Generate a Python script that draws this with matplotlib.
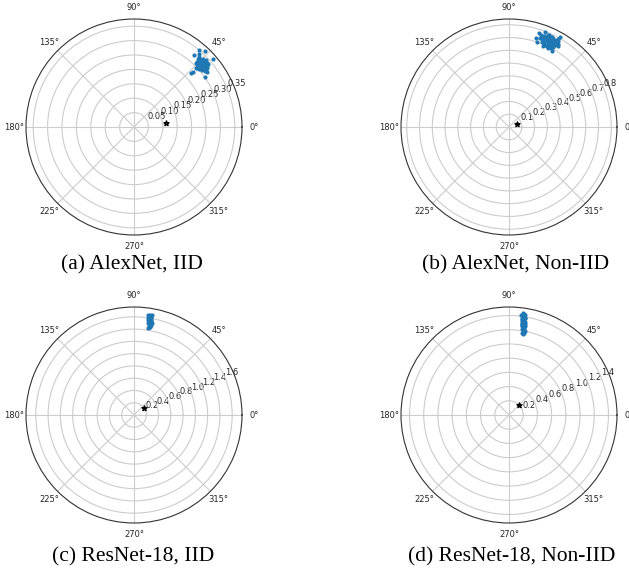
import matplotlib

matplotlib.use('Agg')
import matplotlib.pyplot as plt
import numpy as np

# Panel (a) AlexNet, IID
theta_a = [42.1, 43.5, 41.0, 44.2, 40.3, 42.8, 45.1, 39.6, 43.0, 41.7,
           44.8, 42.4, 40.9, 43.9, 46.0, 41.3, 42.6, 44.0, 39.2, 43.3,
           45.6, 40.6, 42.0, 44.5, 41.9, 43.7, 38.7, 42.9, 46.4, 40.1,
           43.1, 41.5, 44.7, 42.3, 39.9, 45.3, 41.1, 43.6, 42.7, 40.7,
           44.3, 47.2, 38.4, 42.2, 43.4, 41.6, 45.8, 40.4, 49.8, 47.0,
           40.7, 43.0, 35.2, 50.2, 43.5, 36.8, 48.5]
r_a = [0.320, 0.315, 0.325, 0.318, 0.312, 0.331, 0.322, 0.317, 0.305, 0.328,
       0.310, 0.336, 0.320, 0.327, 0.316, 0.309, 0.323, 0.333, 0.326, 0.314,
       0.329, 0.338, 0.302, 0.322, 0.316, 0.308, 0.321, 0.340, 0.324, 0.330,
       0.327, 0.313, 0.335, 0.311, 0.309, 0.317, 0.334, 0.321, 0.300, 0.319,
       0.328, 0.330, 0.314, 0.335, 0.298, 0.337, 0.311, 0.326, 0.350, 0.361,
       0.362, 0.280, 0.301, 0.325, 0.273, 0.318, 0.340]
star_a = (7.0, 0.112)
rmax_a = 0.375

# Panel (b) AlexNet, Non-IID
theta_b = [65.4, 63.2, 67.8, 61.5, 66.0, 64.1, 69.3, 62.7, 65.9, 68.4,
           63.8, 66.7, 60.9, 64.6, 67.1, 62.2, 65.0, 70.2, 63.5, 66.4,
           61.8, 64.9, 68.0, 62.9, 66.9, 64.3, 71.0, 60.2, 65.6, 67.5,
           63.0, 69.0, 61.2, 64.0, 66.2, 62.4, 68.8, 65.2, 59.6, 67.0,
           63.6, 70.6, 64.8, 62.0, 66.5, 73.1, 69.2, 60.5, 60.5, 72.0,
           58.6, 71.8, 64.4, 67.6, 61.0]
r_b = [0.732, 0.745, 0.720, 0.758, 0.701, 0.770, 0.740, 0.712, 0.755, 0.728,
       0.690, 0.765, 0.735, 0.748, 0.782, 0.770, 0.715, 0.752, 0.726, 0.742,
       0.700, 0.780, 0.762, 0.738, 0.706, 0.722, 0.735, 0.775, 0.760, 0.748,
       0.705, 0.715, 0.790, 0.695, 0.785, 0.728, 0.760, 0.745, 0.755, 0.690,
       0.768, 0.760, 0.703, 0.742, 0.750, 0.728, 0.795, 0.683, 0.809, 0.770,
       0.740, 0.700, 0.778, 0.735, 0.718]
star_b = (19.0, 0.064)
rmax_b = 0.845

# Panel (c) ResNet-18, IID
theta_c = [80.5, 79.8, 81.2, 80.0, 79.3, 80.8, 81.5, 79.6, 80.3, 81.0,
           79.1, 80.6, 81.8, 79.9, 80.2, 81.3, 79.5, 80.9, 80.4, 81.6,
           79.7, 80.1, 81.1, 79.4, 80.7]
r_c = [1.45, 1.48, 1.52, 1.55, 1.50, 1.58, 1.61, 1.57, 1.62, 1.65,
       1.53, 1.47, 1.64, 1.60, 1.51, 1.56, 1.46, 1.54, 1.63, 1.59,
       1.49, 1.66, 1.60, 1.55, 1.44]
star_c = (36.0, 0.20)
rmax_c = 1.76

# Panel (d) ResNet-18, Non-IID
theta_d = [82.0, 81.0, 82.6, 81.4, 80.6, 82.3, 81.2, 80.5, 81.9, 80.3,
           81.5, 79.9, 81.0, 80.0, 81.4, 79.8, 80.7, 79.6, 81.0, 80.2,
           82.9, 82.4, 80.9, 81.8, 79.4, 80.4, 81.6, 80.6, 82.1, 81.6]
r_d = [1.45, 1.43, 1.41, 1.40, 1.38, 1.36, 1.35, 1.33, 1.31, 1.30,
       1.28, 1.27, 1.25, 1.24, 1.22, 1.21, 1.19, 1.18, 1.17, 1.16,
       1.42, 1.37, 1.32, 1.26, 1.20, 1.39, 1.29, 1.23, 1.34, 1.44]
star_d = (43.0, 0.20)
rmax_d = 1.52

captions = ["(a) AlexNet, IID", "(b) AlexNet, Non-IID",
            "(c) ResNet-18, IID", "(d) ResNet-18, Non-IID"]

W, H = 629, 582
fig = plt.figure(figsize=(W / 100, H / 100), dpi=100)

panels = [
    (theta_a, r_a, star_a, rmax_a, 0.05, (134, 127), (132, 265)),
    (theta_b, r_b, star_b, rmax_b, 0.1, (509, 127), (516, 265)),
    (theta_c, r_c, star_c, rmax_c, 0.2, (134, 415), (133, 557)),
    (theta_d, r_d, star_d, rmax_d, 0.2, (509, 415), (512, 557)),
]

R = 108
for (th, r, star, rmax, step, (cx, cy), (tx, ty)), cap in zip(panels, captions):
    ax = fig.add_axes([(cx - R) / W, (H - cy - R) / H, 2 * R / W, 2 * R / H],
                      projection='polar')
    ax.scatter(np.deg2rad(th), r, s=4, color='#1f77b4', zorder=3)
    ax.scatter(np.deg2rad(star[0]), star[1], marker='*', s=14, color='black', zorder=4)
    ax.set_rmax(rmax)
    ax.set_rticks(np.arange(step, rmax, step))
    ax.tick_params(labelsize=6, labelcolor='#262626')
    ax.tick_params(axis='x', pad=-2)
    ax.grid(True, color='#cccccc', linewidth=0.8)
    ax.spines['polar'].set_color('#333333')
    fig.text(tx / W, 1 - ty / H, cap, ha='center', va='center',
             fontsize=15.5, family='Liberation Serif')

fig.savefig('out.png', dpi=100)
